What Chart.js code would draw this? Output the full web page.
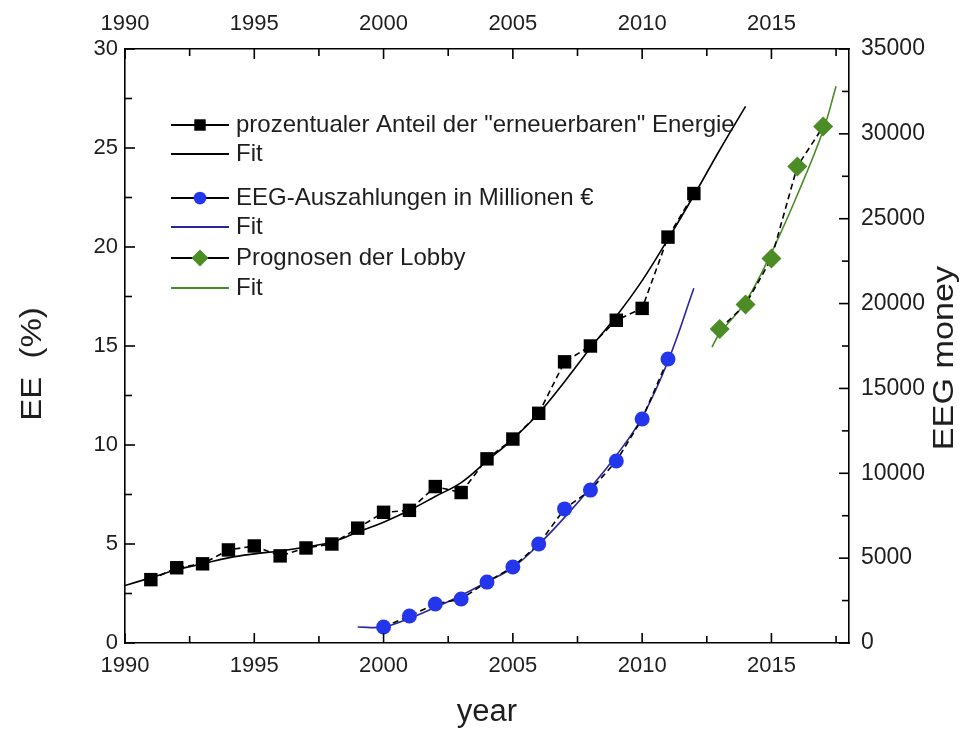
<!DOCTYPE html>
<html>
<head>
<meta charset="utf-8">
<script src="https://cdn.jsdelivr.net/npm/chart.js@4/dist/chart.umd.min.js"></script>
<style>
  body { margin: 0; background: #fff; }
  #wrap { width: 967px; height: 731px; }
</style>
</head>
<body>
<div id="wrap"><canvas id="eeChart" width="967" height="731"></canvas></div>
<script>
// share of renewables in % (left axis)
const eeYears = [1991, 1992, 1993, 1994, 1995, 1996, 1997, 1998, 1999, 2000, 2001,
                 2002, 2003, 2004, 2005, 2006, 2007, 2008, 2009, 2010, 2011, 2012];
const eeShare = [3.2, 3.8, 4.0, 4.7, 4.9, 4.4, 4.8, 5.0, 5.8, 6.6, 6.7,
                 7.9, 7.6, 9.3, 10.3, 11.6, 14.2, 15.0, 16.3, 16.9, 20.5, 22.7];
const eeFitYears = [1990, 1991, 1992, 1993, 1994, 1995, 1996, 1997, 1998, 1999, 2000, 2001, 2002,
                    2003, 2004, 2005, 2006, 2007, 2008, 2009, 2010, 2011, 2012, 2013, 2014];
const eeFit = [2.9, 3.3, 3.7, 4.0, 4.3, 4.5, 4.65, 4.85, 5.1, 5.6, 6.1, 6.7, 7.4,
               8.1, 9.2, 10.3, 11.6, 13.2, 14.9, 16.5, 18.3, 20.4, 22.6, 24.9, 27.1];

// EEG payments in million EUR (right axis)
const eegYears = [2000, 2001, 2002, 2003, 2004, 2005, 2006, 2007, 2008, 2009, 2010, 2011];
const eegMoney = [940, 1590, 2300, 2590, 3590, 4480, 5830, 7900, 9010, 10720, 13200, 16730];
const eegFitYears = [1999, 2000, 2001, 2002, 2003, 2004, 2005, 2006, 2007, 2008, 2009, 2010, 2011, 2012];
const eegFit = [940, 950, 1450, 2100, 2800, 3600, 4450, 5800, 7400, 9150, 11050, 13300, 16600, 20900];

// lobby forecasts (right axis)
const lobbyYears = [2013, 2014, 2015, 2016, 2017];
const lobbyMoney = [18500, 19950, 22650, 28080, 30430];
const lobbyFitYears = [2012.7, 2013, 2014, 2015, 2016, 2017, 2017.5];
const lobbyFit = [17440, 18250, 20100, 23000, 26400, 30200, 32800];

// axis ranges / ticks
const yearMin = 1990, yearMax = 2018, yearStep = 2.5, yearLabelStep = 5;
const eeMax = 30, eeStep = 2.5, eeLabelStep = 5;
const moneyMax = 35000, moneyStep = 2500, moneyLabelStep = 5000;

const pts = (xs, ys) => xs.map((x, i) => ({ x: x, y: ys[i] }));

const BLUE = '#2436ec';
const GREEN = '#4b8c25';
const FIT_BLUE = '#27289a';
const TEXT = '#1e1e1e';
const FONT = '"Liberation Sans", Arial, sans-serif';

const dataLine = {
    borderColor: '#000',
    borderWidth: 1.6,
    borderDash: [6, 4],
    pointBorderWidth: 0,
    fill: false,
};
const fitLine = {
    borderWidth: 1.6,
    pointRadius: 0,
    fill: false,
    tension: 0.4,
};

const datasets = [
    Object.assign({}, dataLine, {
        label: 'prozentualer Anteil der "erneuerbaren" Energie',
        data: pts(eeYears, eeShare), yAxisID: 'y',
        pointStyle: 'rect', pointRadius: 9.5, pointBackgroundColor: '#000',
    }),
    Object.assign({}, fitLine, {
        label: 'Fit', data: pts(eeFitYears, eeFit), yAxisID: 'y', borderColor: '#000',
    }),
    Object.assign({}, dataLine, {
        label: 'EEG-Auszahlungen in Millionen €',
        data: pts(eegYears, eegMoney), yAxisID: 'y2',
        pointStyle: 'circle', pointRadius: 7.5, pointBackgroundColor: BLUE,
    }),
    Object.assign({}, fitLine, {
        label: 'Fit', data: pts(eegFitYears, eegFit), yAxisID: 'y2', borderColor: FIT_BLUE,
    }),
    Object.assign({}, dataLine, {
        label: 'Prognosen der Lobby',
        data: pts(lobbyYears, lobbyMoney), yAxisID: 'y2',
        pointStyle: 'rectRot', pointRadius: 10, pointBackgroundColor: GREEN,
    }),
    Object.assign({}, fitLine, {
        label: 'Fit', data: pts(lobbyFitYears, lobbyFit), yAxisID: 'y2', borderColor: GREEN,
    }),
];

// rows of the in-plot legend (y centre of each row)
const legendRows = [125, 154, 198, 227, 258, 288];

const labelEvery = (step) => (v) => (Math.abs(v % step) < 1e-9 ? String(v) : '');

function axis(position, min, max, step, labelStep, size, pad, fontSize) {
    return {
        type: 'linear',
        position: position,
        min: min,
        max: max,
        grid: { display: false, drawTicks: false },
        border: { display: true, color: '#000', width: 1.6 },
        ticks: {
            stepSize: step,
            includeBounds: false,
            autoSkip: false,
            maxRotation: 0,
            padding: pad,
            color: TEXT,
            font: { family: FONT, size: fontSize },
            callback: labelEvery(labelStep),
        },
        afterFit: (s) => {
            if (position === 'left' || position === 'right') s.width = size;
            else s.height = size;
        },
    };
}

// ticks pointing into the plot, long ones where there is a label
const innerTicks = {
    id: 'innerTicks',
    afterDraw(chart) {
        const ctx = chart.ctx;
        const a = chart.chartArea;
        const specs = [
            ['x', yearLabelStep], ['x2', yearLabelStep], ['y', eeLabelStep], ['y2', moneyLabelStep],
        ];
        ctx.save();
        ctx.strokeStyle = '#000';
        ctx.lineWidth = 1.6;
        specs.forEach(([id, major]) => {
            const sc = chart.scales[id];
            sc.ticks.forEach((t) => {
                const len = Math.abs(t.value % major) < 1e-9 ? 10 : 7;
                const p = sc.getPixelForValue(t.value);
                ctx.beginPath();
                if (sc.position === 'bottom') { ctx.moveTo(p, a.bottom); ctx.lineTo(p, a.bottom - len); }
                if (sc.position === 'top') { ctx.moveTo(p, a.top); ctx.lineTo(p, a.top + len); }
                if (sc.position === 'left') { ctx.moveTo(a.left, p); ctx.lineTo(a.left + len, p); }
                if (sc.position === 'right') { ctx.moveTo(a.right, p); ctx.lineTo(a.right - len, p); }
                ctx.stroke();
            });
        });
        ctx.restore();
    },
};

// vertical axis titles, both reading bottom to top, a bit wide like the original
function vTitle(ctx, text, x, y, size, stretch) {
    ctx.save();
    ctx.translate(x, y);
    ctx.rotate(-Math.PI / 2);
    ctx.scale(stretch, 1);
    ctx.font = size + 'px ' + FONT;
    ctx.fillStyle = TEXT;
    ctx.textAlign = 'center';
    ctx.textBaseline = 'middle';
    ctx.fillText(text, 0, 0);
    ctx.restore();
}

const axisTitles = {
    id: 'axisTitles',
    afterDraw(chart) {
        vTitle(chart.ctx, 'EE  (%)', 33, 364, 30, 1.1);
        vTitle(chart.ctx, 'EEG money', 945, 358, 30, 1.14);
    },
};

function drawMarker(ctx, style, x, y, r, color) {
    ctx.fillStyle = color;
    ctx.beginPath();
    if (style === 'rect') {
        const h = r * Math.SQRT1_2;
        ctx.rect(x - h, y - h, 2 * h, 2 * h);
    } else if (style === 'rectRot') {
        ctx.moveTo(x, y - r); ctx.lineTo(x + r, y); ctx.lineTo(x, y + r); ctx.lineTo(x - r, y);
        ctx.closePath();
    } else {
        ctx.arc(x, y, r, 0, Math.PI * 2);
    }
    ctx.fill();
}

// legend inside the plot: line + marker, then text
const plotLegend = {
    id: 'plotLegend',
    afterDraw(chart) {
        const ctx = chart.ctx;
        ctx.save();
        ctx.font = '24px ' + FONT;
        ctx.textBaseline = 'middle';
        chart.data.datasets.forEach((ds, i) => {
            const y = legendRows[i];
            ctx.strokeStyle = ds.borderColor;
            ctx.lineWidth = 1.8;
            ctx.setLineDash([]);
            ctx.beginPath();
            ctx.moveTo(171, y);
            ctx.lineTo(229, y);
            ctx.stroke();
            if (ds.pointRadius) {
                drawMarker(ctx, ds.pointStyle, 200, y, ds.pointRadius * 0.85, ds.pointBackgroundColor);
            }
            ctx.fillStyle = TEXT;
            ctx.fillText(ds.label, 236, y);
        });
        ctx.restore();
    },
};

const xAxis = axis('bottom', yearMin, yearMax, yearStep, yearLabelStep, 88, 10, 22);
xAxis.title = {
    display: true, text: 'year', color: TEXT, padding: { top: 0, bottom: 0 },
    font: { family: FONT, size: 31 },
};

new Chart(document.getElementById('eeChart'), {
    type: 'line',
    data: { datasets: datasets },
    options: {
        responsive: false,
        animation: false,
        devicePixelRatio: 1,
        layout: { padding: 0 },
        plugins: { legend: { display: false }, tooltip: { enabled: false } },
        scales: {
            x: xAxis,
            x2: axis('top', yearMin, yearMax, yearStep, yearLabelStep, 49, 12, 22),
            y: axis('left', 0, eeMax, eeStep, eeLabelStep, 125, 7, 22),
            y2: axis('right', 0, moneyMax, moneyStep, moneyLabelStep, 118, 12, 23),
        },
    },
    plugins: [innerTicks, axisTitles, plotLegend],
});
</script>
</body>
</html>
